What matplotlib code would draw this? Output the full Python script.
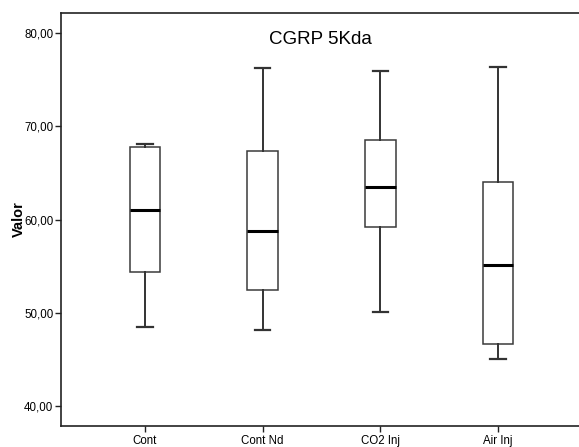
import matplotlib
matplotlib.use('Agg')
import matplotlib.pyplot as plt

plt.rcParams['font.family'] = ['Liberation Sans', 'DejaVu Sans']

grupos = ['Cont', 'Cont Nd', 'CO2 Inj', 'Air Inj']
whis_low = [48.42, 48.20, 50.03, 45.05]
q1 = [54.40, 52.43, 59.25, 46.60]
mediana = [61.07, 58.82, 63.47, 55.09]
q3 = [67.77, 67.31, 68.49, 63.98]
whis_high = [68.13, 76.24, 75.98, 76.34]
yticks = [40, 50, 60, 70, 80]

stats = []
for i, g in enumerate(grupos):
    stats.append({'label': g, 'whislo': whis_low[i], 'q1': q1[i], 'med': mediana[i],
                  'q3': q3[i], 'whishi': whis_high[i], 'fliers': []})

fig = plt.figure(figsize=(5.79, 4.47), dpi=100)
ax = fig.add_axes([0.1054, 0.047, 0.8946, 0.9246])

ax.bxp(stats, positions=[1, 2, 3, 4], widths=0.26, showfliers=False, patch_artist=True,
       boxprops=dict(facecolor='white', edgecolor='#3a3a3a', linewidth=1.1),
       medianprops=dict(color='black', linewidth=2.2),
       whiskerprops=dict(color='#333333', linewidth=1.4),
       capprops=dict(color='#333333', linewidth=1.6),
       capwidths=0.13)

ax.set_xlim(0.286, 4.689)
ax.set_ylim(37.85, 82.2)
ax.set_yticks(yticks)
ax.set_yticklabels(['{:.2f}'.format(v).replace('.', ',') for v in yticks])
ax.set_xticks([1, 2, 3, 4])
ax.set_xticklabels(grupos)

ax.spines['right'].set_visible(False)
for s in ['left', 'bottom', 'top']:
    ax.spines[s].set_linewidth(1.2)
    ax.spines[s].set_color('#222222')

ax.tick_params(axis='both', direction='out', length=4, width=1, color='#222222',
               labelsize=8.3, pad=1.5)
ax.tick_params(axis='x', pad=2.5)

ax.set_ylabel('Valor', fontsize=10.5, fontweight='bold', labelpad=-1)
ax.text(0.5, 0.934, 'CGRP 5Kda', transform=ax.transAxes, ha='center', va='center',
        fontsize=13.5)

fig.savefig('out.png', dpi=100)
